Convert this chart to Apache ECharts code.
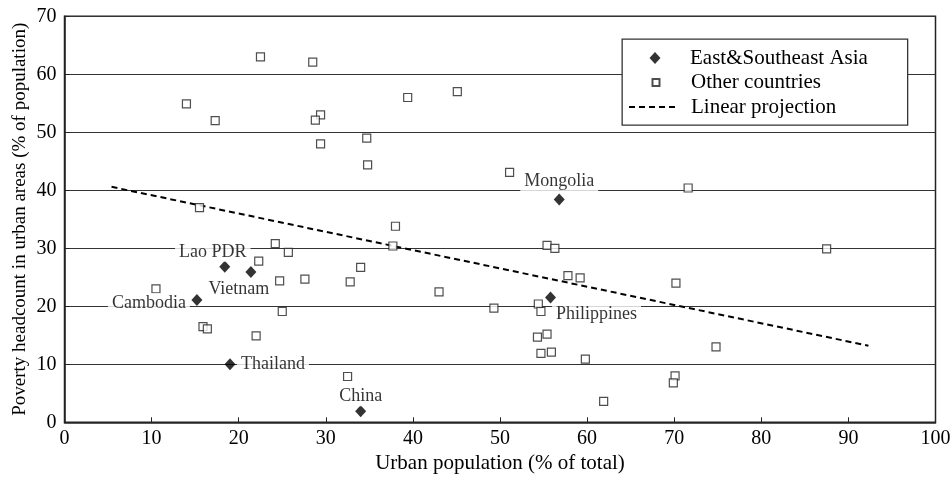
<!DOCTYPE html>
<html>
<head>
<meta charset="utf-8">
<script src="https://cdn.jsdelivr.net/npm/echarts@6/dist/echarts.min.js"></script>
<style>html,body{margin:0;padding:0;background:#fff}#c{width:952px;height:479px}</style>
</head>
<body>
<div id="c"></div>
<script>
// ---- data ----
const eastAsiaNames = ['Mongolia', 'Lao PDR', 'Vietnam', 'Cambodia', 'Thailand', 'Philippines', 'China'];
const eastAsiaX = [56.8, 18.4, 21.4, 15.2, 19.0, 55.8, 34.0];
const eastAsiaY = [38.4, 26.8, 25.9, 21.1, 10.0, 21.5, 1.9];
const otherX = [22.5, 28.5, 14.0, 17.3, 29.4, 28.8, 29.4, 15.5, 39.4, 45.1, 34.7, 34.8, 51.1, 38.0, 71.6,
  24.2, 25.7, 22.3, 24.7, 27.6, 32.8, 10.5, 25.0, 15.9, 16.4, 22.0, 32.5, 34.0, 37.7, 43.0, 49.3,
  55.4, 56.3, 57.8, 59.2, 54.4, 54.7, 55.4, 54.3, 54.7, 55.9, 59.8, 61.9, 87.5, 70.2, 74.8, 70.1, 69.9];
const otherY = [63.0, 62.1, 54.9, 52.0, 53.0, 52.1, 48.0, 37.0, 56.0, 57.0, 49.0, 44.4, 43.1, 33.8, 40.4,
  30.8, 29.3, 27.8, 24.4, 24.7, 24.2, 23.0, 19.1, 16.5, 16.1, 14.9, 7.9, 26.7, 30.4, 22.5, 19.7,
  30.5, 30.0, 25.3, 24.9, 20.4, 19.1, 15.2, 14.7, 11.9, 12.1, 10.9, 3.6, 29.9, 24.0, 13.0, 8.0, 6.8];
const projectionX = [5.4, 92.3];
const projectionY = [40.6, 13.2];
const xTicks = [0, 100, 10];
const yTicks = [0, 70, 10];
const seriesNames = ['East&Southeast Asia', 'Other countries', 'Linear projection'];

// ---- label placement (offset of label centre from its marker, px) ----
const labelOffsets = {
  'Mongolia': [0, -18], 'Lao PDR': [-12, -15], 'Vietnam': [-12, 17], 'Cambodia': [-48, 3],
  'Thailand': [43, 0], 'Philippines': [46, 17], 'China': [0, -15]
};

const FONT = '"Liberation Serif", "Times New Roman", serif';
const chart = echarts.init(document.getElementById('c'), null, {renderer: 'canvas'});

const eastData = eastAsiaNames.map((n, i) => ({
  name: n, value: [eastAsiaX[i], eastAsiaY[i]],
  label: {show: true, position: 'inside', offset: labelOffsets[n]}
}));
const otherData = otherX.map((x, i) => [x, otherY[i]]);
const projData = projectionX.map((x, i) => [x, projectionY[i]]);

const legendText = (padLeft) => ({fontFamily: FONT, fontSize: 21, color: '#000', padding: [0, 0, 0, padLeft]});
const legendBase = {orient: 'vertical', selectedMode: false, padding: 0, itemGap: 0, symbolKeepAspect: true};

chart.setOption({
  animation: false,
  backgroundColor: '#fff',
  grid: {left: 64.5, right: 16.5, top: 16.3, bottom: 56.7, show: true, borderColor: '#222', borderWidth: 1.5,
    containLabel: false, outerBoundsMode: 'none'},
  xAxis: {
    type: 'value', min: xTicks[0], max: xTicks[1], interval: xTicks[2],
    name: 'Urban population (% of total)', nameLocation: 'middle', nameGap: 31, nameMoveOverlap: false,
    nameTextStyle: {fontFamily: FONT, fontSize: 21, color: '#000'},
    axisLine: {lineStyle: {color: '#222', width: 1.5}},
    axisTick: {inside: true, length: 5, lineStyle: {color: '#222', width: 1}},
    axisLabel: {fontFamily: FONT, fontSize: 20, color: '#000', margin: 6},
    splitLine: {show: false}
  },
  yAxis: {
    type: 'value', min: yTicks[0], max: yTicks[1], interval: yTicks[2],
    name: 'Poverty headcount in urban areas (% of population)', nameLocation: 'middle', nameGap: 35, nameMoveOverlap: false,
    nameTextStyle: {fontFamily: FONT, fontSize: 19, color: '#000'},
    axisLine: {lineStyle: {color: '#222', width: 1.5}},
    axisTick: {inside: true, length: 5, lineStyle: {color: '#222', width: 1}},
    axisLabel: {fontFamily: FONT, fontSize: 20, color: '#000', margin: 8},
    splitLine: {show: true, lineStyle: {color: '#333', width: 1.2}}
  },
  legend: [
    Object.assign({}, legendBase, {left: 649.5, top: 47.5, itemWidth: 11, itemHeight: 12, data: [seriesNames[0]],
      textStyle: legendText(24.5)}),
    Object.assign({}, legendBase, {left: 651.5, top: 72, itemWidth: 7, itemHeight: 7, data: [seriesNames[1]],
      textStyle: legendText(26.5)}),
    Object.assign({}, legendBase, {left: 628, top: 96.5, itemWidth: 47, itemHeight: 10, data: [seriesNames[2]],
      itemStyle: {opacity: 0}, textStyle: legendText(10)})
  ],
  graphic: [{
    type: 'rect', left: 621.5, top: 38.5, z: 10, silent: true,
    shape: {width: 285.5, height: 86},
    style: {fill: 'rgba(0,0,0,0)', stroke: '#333', lineWidth: 1.3}
  }, {
    type: 'rect', left: 622, top: 39, z: 1, silent: true,
    shape: {width: 285, height: 85},
    style: {fill: '#fff'}
  }],
  series: [
    {
      name: seriesNames[0], type: 'scatter', data: eastData, z: 4,
      symbol: 'diamond', symbolSize: [11, 12],
      itemStyle: {color: '#000', borderWidth: 0},
      label: {formatter: '{b}', fontFamily: FONT, fontSize: 18, color: '#000',
        backgroundColor: '#fff', padding: [1, 4]}
    },
    {
      name: seriesNames[1], type: 'scatter', data: otherData, z: 3,
      symbol: 'rect', symbolSize: 8,
      itemStyle: {color: '#fff', borderColor: '#222', borderWidth: 1.2}
    },
    {
      name: seriesNames[2], type: 'line', data: projData, z: 2,
      symbol: 'none', showSymbol: false,
      itemStyle: {color: 'rgba(0,0,0,0)'},
      lineStyle: {color: '#000', width: 2, type: [6, 4]}
    }
  ]
});
</script>
</body>
</html>
